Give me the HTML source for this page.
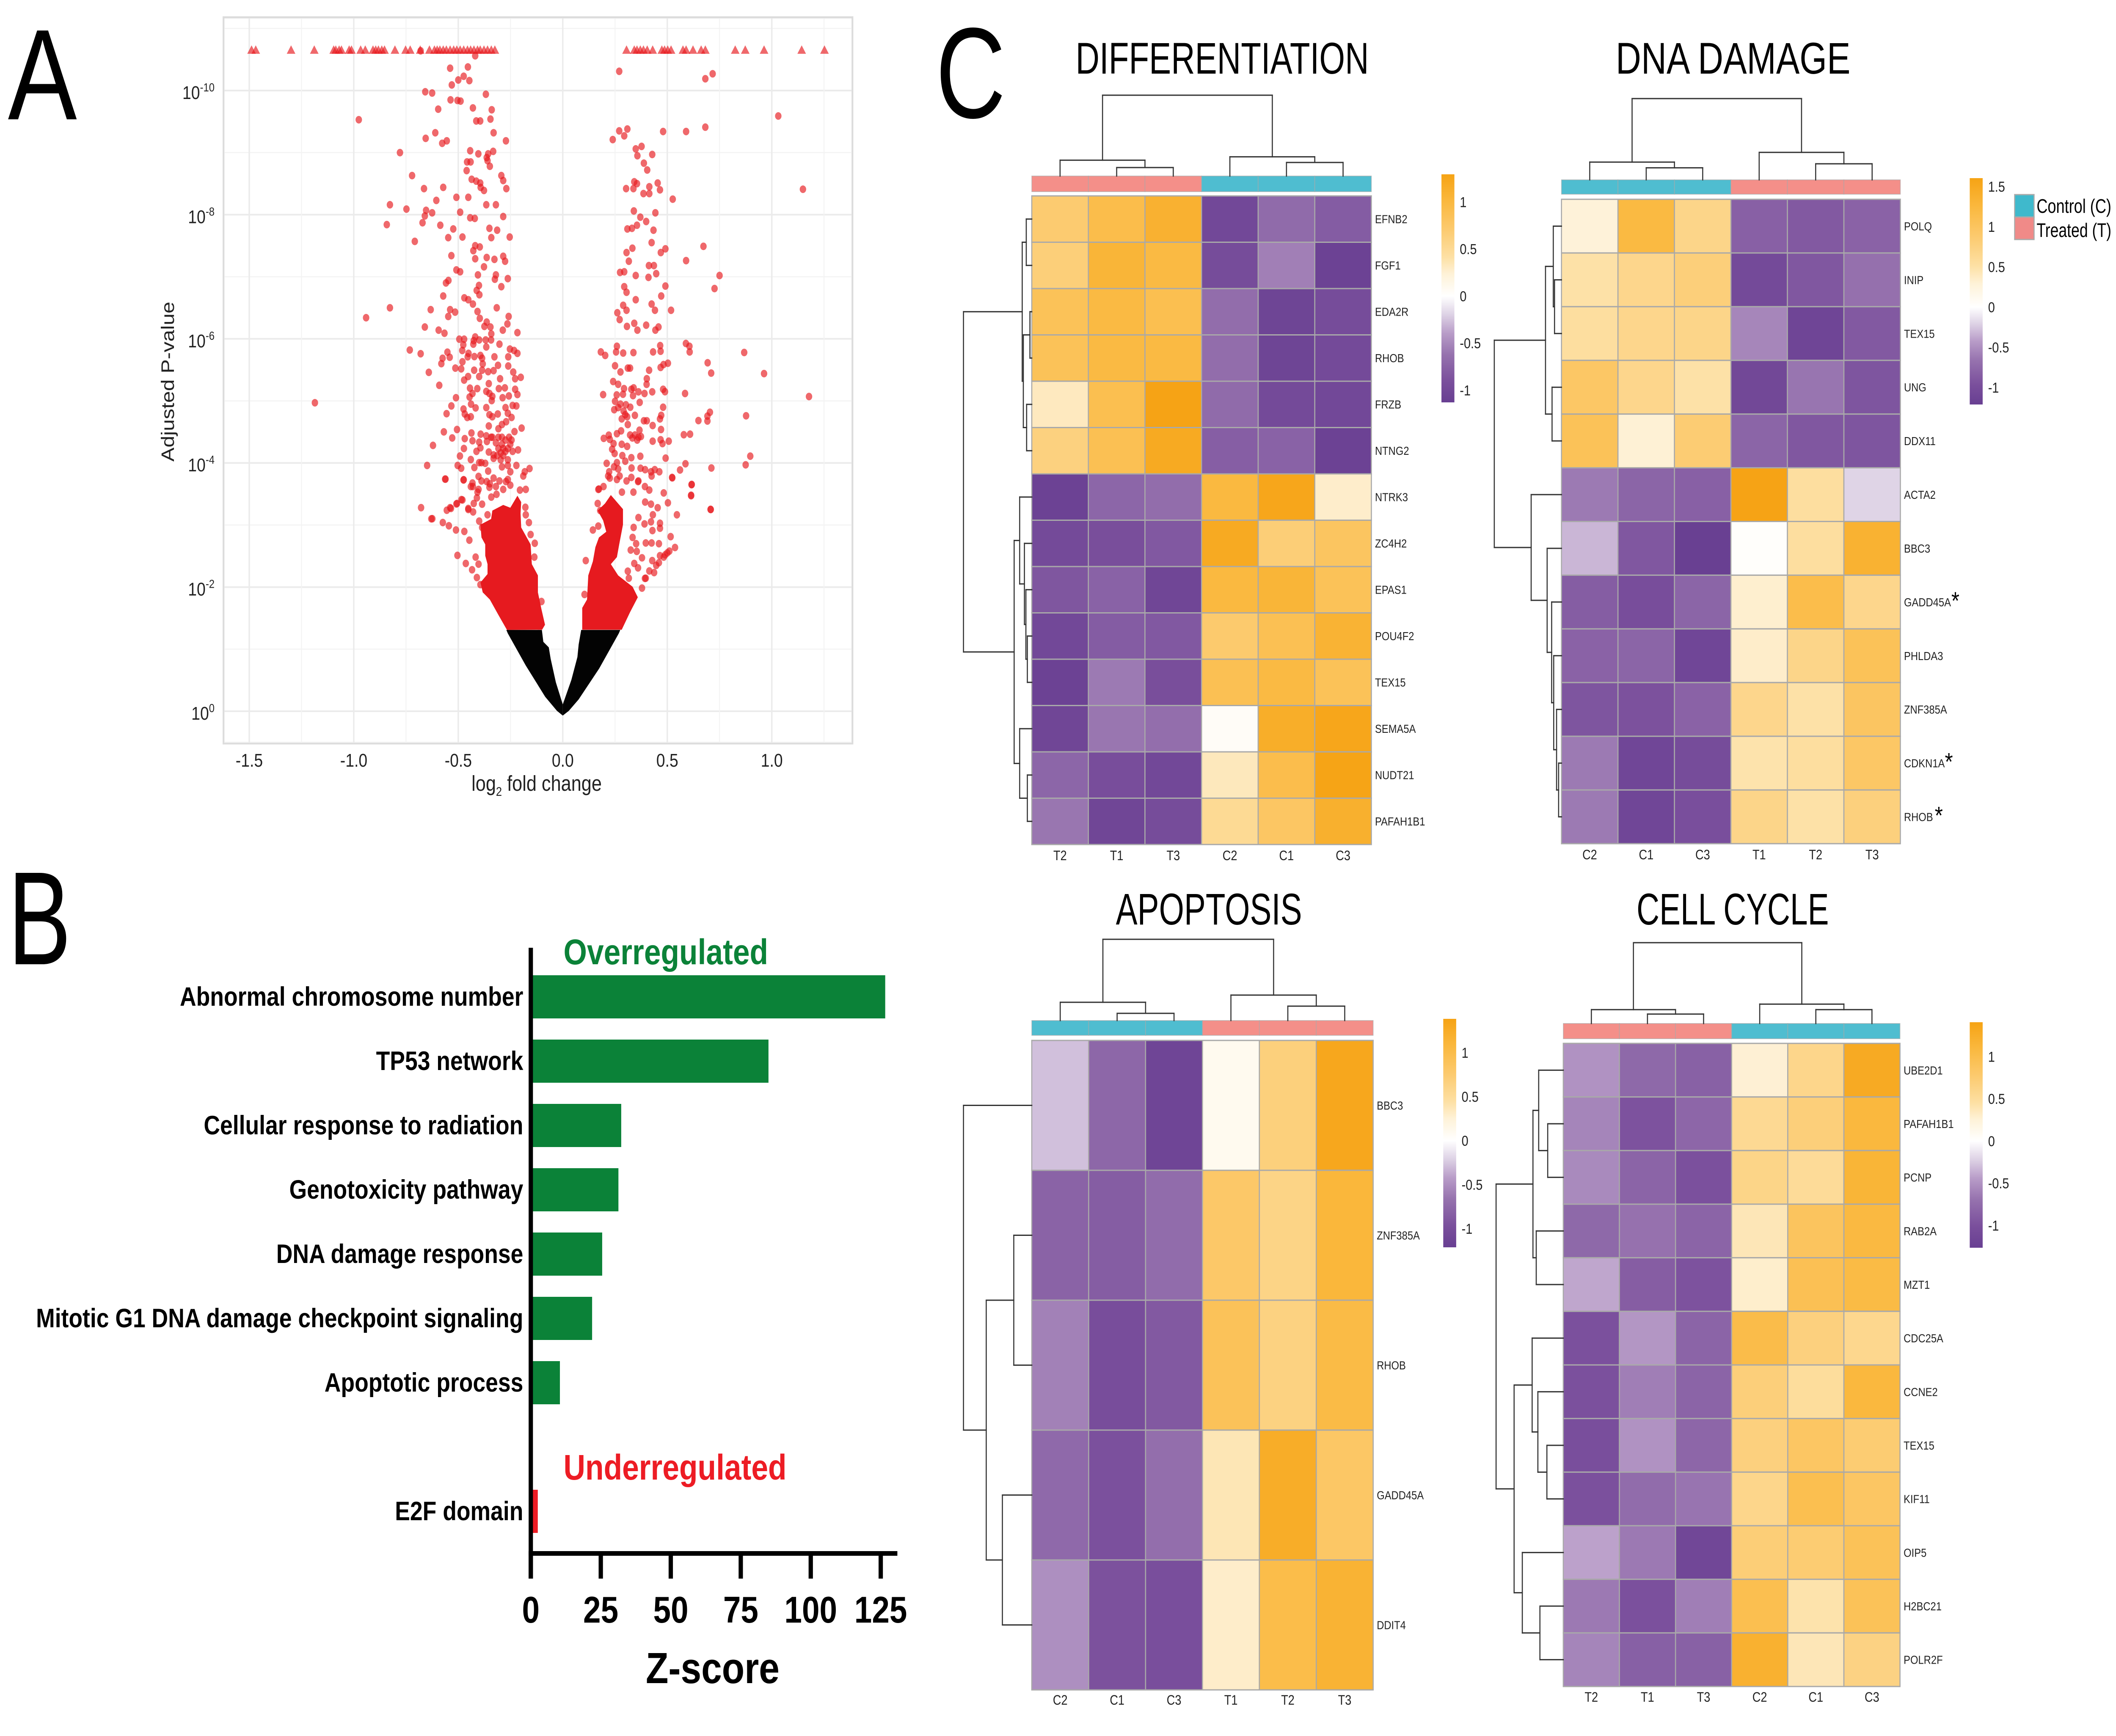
<!DOCTYPE html>
<html lang="en"><head><meta charset="utf-8"><title>Volcano plot, pathway Z-scores and heatmaps</title>
<style>html,body{margin:0;padding:0;background:#fff;width:100%;height:100%;overflow:hidden}svg{display:block;width:100%;height:100%;overflow:hidden}text{font-family:"Liberation Sans",sans-serif}</style></head>
<body>
<svg id="fig" xmlns="http://www.w3.org/2000/svg" viewBox="0 0 5888 4103" preserveAspectRatio="none">
<defs id="defs"></defs>
<rect width="5888" height="4103" fill="#fff"/>
<text x="22" y="282" font-size="305" textLength="192" lengthAdjust="spacingAndGlyphs">A</text>
<text x="22" y="2279" font-size="314" textLength="176" lengthAdjust="spacingAndGlyphs">B</text>
<text x="2604" y="278" font-size="305" textLength="194" lengthAdjust="spacingAndGlyphs">C</text>
<g id="volcano"></g>
<g id="bars"></g>
<g id="heatmaps"></g>
<g>
<rect x="5606" y="460" width="54" height="53" fill="#3fb9cc" stroke="#aaa" stroke-width="3"/>
<rect x="5606" y="513" width="54" height="53" fill="#f08a88" stroke="#aaa" stroke-width="3"/>
<text x="5667" y="503" font-size="46" textLength="208" lengthAdjust="spacingAndGlyphs">Control (C)</text>
<text x="5667" y="560" font-size="46" textLength="208" lengthAdjust="spacingAndGlyphs">Treated (T)</text>
</g>
</svg>
<script>
/* ---------- Panel A data ---------- */
const volcanoXTicks=[-1.5,-1,-0.5,0,0.5,1];
const volcanoXTickLabels=['-1.5','-1.0','-0.5','0.0','0.5','1.0'];
const volcanoYTicks=[0,2,4,6,8,10];
const volcanoYTickLabels=['0','-2','-4','-6','-8','-10'];
const cappedNegLog10P=10.66;
const cappedLog2FC=[-1.489,-1.469,-1.3,-1.189,-1.096,-1.086,-1.07,-1.059,-1.022,-1.011,-.967,-.945,-.908,-.895,-.882,-.866,-.853,-.803,-.752,-.73,-.682,-.638,-.614,-.601,-.588,-.572,-.557,-.539,-.522,-.507,-.491,-.474,-.456,-.441,-.425,-.408,-.395,-.377,-.36,-.342,-.325,.305,.342,.355,.371,.386,.404,.43,.474,.487,.502,.518,.575,.59,.623,.662,.682,.825,.873,.963,1.143,1.252];
const nonSigEnvelopeLeft=[[0,-.07],[-.028,.007],[-.084,.232],[-.177,.736],[-.263,1.254],[-.27,1.31],[-.1,1.31],[-.093,1.118],[-.067,1.029],[-.058,.845],[-.033,.464],[0,.11]];
const nonSigEnvelopeRight=[[0,-.07],[.029,.007],[.076,.191],[.174,.688],[.268,1.254],[.275,1.31],[.088,1.31],[.076,1.077],[.07,.873],[.041,.504],[0,.11]];
const denseEnvelopeLeft=[[-.267,1.31],[-.308,1.552],[-.349,1.8],[-.383,1.915],[-.394,2.074],[-.36,2.21],[-.36,2.37],[-.371,2.506],[-.371,2.688],[-.389,2.8],[-.394,3.006],[-.343,3.097],[-.337,3.233],[-.285,3.324],[-.251,3.279],[-.217,3.472],[-.199,3.37],[-.202,3.188],[-.199,2.961],[-.154,2.688],[-.148,2.37],[-.119,2.188],[-.119,1.915],[-.102,1.643],[-.085,1.393],[-.099,1.313]];
const denseEnvelopeRight=[[.093,1.313],[.093,1.665],[.116,1.8],[.122,2.188],[.144,2.415],[.156,2.643],[.173,2.8],[.208,2.892],[.193,3.074],[.167,3.233],[.202,3.347],[.23,3.483],[.288,3.256],[.288,3.006],[.27,2.688],[.259,2.483],[.23,2.37],[.265,2.188],[.334,2.006],[.359,1.836],[.322,1.597],[.282,1.313]];
const sigPointsLeft=[[-.539,10.36],[-.454,10.38],[-.419,10.56],[-.68,10.64],[-.5,10.17],[-.474,10.23],[-.447,10.16],[-.531,10.09],[-.658,9.98],[-.625,9.96],[-.368,9.94],[-.537,9.85],[-.504,9.84],[-.489,9.83],[-.43,9.72],[-.596,9.7],[-.34,9.69],[-.976,9.53],[-.414,9.51],[-.395,9.51],[-.346,9.54],[-.331,9.32],[-.61,9.32],[-.656,9.23],[-.272,9.19],[-.555,9.19],[-.577,9.15],[-.779,9],[-.443,9.03],[-.404,8.98],[-.357,8.98],[-.333,9.02],[-.364,8.92],[-.458,8.85],[-.441,8.85],[-.36,8.87],[-.349,8.78],[-.46,8.71],[-.721,8.63],[-.294,8.63],[-.285,8.55],[-.436,8.57],[-.414,8.54],[-.395,8.51],[-.664,8.42],[-.572,8.44],[-.393,8.44],[-.377,8.39],[-.27,8.42],[-.509,8.28],[-.452,8.28],[-.605,8.23],[-.827,8.16],[-.366,8.16],[-.32,8.16],[-.748,8.09],[-.654,8.07],[-.491,8.04],[-.625,8.03],[-.66,7.98],[-.285,7.97],[-.443,7.95],[-.421,7.94],[-.671,7.87],[-.842,7.84],[-.586,7.83],[-.524,7.77],[-.351,7.78],[-.314,7.75],[-.342,7.63],[-.254,7.64],[-.548,7.63],[-.48,7.64],[-.708,7.57],[-.419,7.5],[-.397,7.48],[-.428,7.42],[-.533,7.34],[-.364,7.31],[-.419,7.29],[-.285,7.33],[-.276,7.25],[-.327,7.28],[-.377,7.16],[-.509,7.11],[-.491,7.08],[-.406,7.03],[-.32,7.03],[-.263,6.97],[-.325,6.96],[-.547,6.94],[-.559,6.9],[-.401,6.86],[-.294,6.84],[-.412,6.78],[-.572,6.69],[-.471,6.66],[-.452,6.63],[-.399,6.71],[-.43,6.56],[-.316,6.5],[-.827,6.5],[-.632,6.47],[-.539,6.47],[-.515,6.43],[-.408,6.44],[-.548,6.36],[-.941,6.34],[-.397,6.33],[-.259,6.36],[-.364,6.27],[-.265,6.24],[-.375,6.2],[-.66,6.19],[-.346,6.19],[-.594,6.14],[-.287,6.14],[-.217,6.1],[-.566,6.09],[-.342,6.08],[-.419,6.03],[-.732,5.82],[-.68,5.76],[-1.186,4.97],
[-.552,5.785],[-.541,5.703],[-.575,5.687],[-.581,5.6],[-.641,5.46],[-.591,5.251],[-.514,5.528],[-.486,5.516],[-.48,5.63],[-.455,5.71],[-.451,5.766],[-.481,5.812],[-.476,5.903],[-.495,5.994],[-.472,5.994],[-.426,5.971],[-.428,5.914],[-.4,5.982],[-.366,5.869],[-.369,5.982],[-.343,5.982],[-.303,5.914],[-.423,5.714],[-.394,5.732],[-.386,5.687],[-.383,5.596],[-.386,5.494],[-.424,5.494],[-.357,5.471],[-.331,5.487],[-.31,5.573],[-.327,5.71],[-.261,5.71],[-.261,5.562],[-.253,5.835],[-.233,5.812],[-.217,5.766],[-.237,5.464],[-.228,5.357],[-.201,5.38],[-.453,5.392],[-.472,5.335],[-.4,5.392],[-.354,5.278],[-.3,5.357],[-.409,5.198],[-.444,5.205],[-.432,5.119],[-.446,5.062],[-.306,5.198],[-.277,5.21],[-.366,5.153],[-.351,5.119],[-.337,5.073],[-.228,5.187],[-.217,5.103],[-.288,5.051],[-.258,5.08],[-.511,5.051],[-.533,4.919],[-.556,4.794],[-.439,4.948],[-.417,4.887],[-.475,4.869],[-.469,4.789],[-.457,4.733],[-.44,4.744],[-.366,4.892],[-.34,5.005],[-.351,4.778],[-.337,4.744],[-.311,4.789],[-.274,4.892],[-.263,4.801],[-.245,4.733],[-.222,4.919],[-.24,4.926],[-.271,4.664],[-.291,4.619],[-.308,4.551],[-.354,4.596],[-.197,4.562],[-.231,4.505],[-.506,4.539],[-.569,4.501],[-.529,4.403],[-.469,4.392],[-.437,4.483],[-.432,4.358],[-.393,4.464],[-.366,4.437],[-.337,4.414],[-.363,4.346],[-.4,4.335],[-.394,4.244],[-.291,4.414],[-.257,4.414],[-.32,4.324],[-.291,4.301],[-.251,4.301],[-.621,4.283],[-.473,4.233],[-.413,4.187],[-.354,4.176],[-.331,4.13],[-.297,4.164],[-.274,4.187],[-.24,4.187],[-.214,4.21],[-.331,4.074],[-.297,4.051],[-.263,4.051],[-.492,4.112],[-.44,4.055],[-.649,3.96],[-.503,3.96],[-.486,3.915],[-.423,3.926],[-.389,4.005],[-.371,3.994],[-.4,4.005],[-.291,3.937],[-.263,3.96],[-.222,3.96],[-.159,3.91],[-.357,3.869],[-.251,3.858],[-.182,3.858],[-.308,4.233],[-.285,4.233],[-.263,4.233],[-.314,4.119],[-.285,4.119],[-.343,4.414],[-.308,4.414],[-.274,4.369],[-.245,4.369],
[-.189,3.79],[-.561,3.74],[-.474,3.73],[-.364,3.7],[-.272,3.7],[-.43,3.62],[-.32,3.62],[-.408,3.53],[-.342,3.45],[-.485,3.41],[-.678,3.28],[-.539,3.28],[-.509,3.34],[-.452,3.25],[-.629,3.1],[-.563,3.74],[-.475,3.726],[-.432,3.677],[-.44,3.62],[-.403,3.574],[-.403,3.783],[-.389,3.71],[-.351,3.608],[-.317,3.495],[-.285,3.574],[-.251,3.642],[-.263,3.733],[-.303,3.71],[-.349,3.665],[-.331,3.756],[-.205,3.563],[-.177,3.574],[-.411,3.438],[-.426,3.347],[-.386,3.336],[-.452,3.267],[-.429,3.211],[-.48,3.404],[-.506,3.347],[-.535,3.267],[-.555,3.238],[-.624,3.102],[-.574,3.04],[-.545,2.988],[-.511,2.92],[-.471,2.897],[-.447,2.756],[-.504,2.511],[-.464,2.381],[-.417,2.483],[-.434,2.279],[-.403,2.37],[-.411,2.154],[-.394,2.04],[-.36,3.165],[-.4,3.063],[-.386,2.961],[-.179,3.286],[-.177,3.165],[-.162,3.04],[-.154,2.847],[-.134,2.706],[-.136,2.483],[-.102,1.768]];
const sigPointsRight=[[.27,10.31],[.717,10.27],[.682,10.19],[1.031,9.59],[.682,9.41],[.309,9.38],[.27,9.35],[.48,9.34],[.59,9.34],[.294,9.27],[.239,9.21],[.377,9.1],[.349,9.06],[.428,8.97],[.357,8.95],[.388,8.83],[.404,8.72],[.342,8.53],[.355,8.5],[.454,8.51],[.303,8.42],[.338,8.42],[.414,8.45],[.386,8.34],[.414,8.34],[.465,8.4],[1.149,8.41],[.526,8.25],[.34,8.06],[.443,8.03],[.371,7.96],[.399,7.89],[.355,7.83],[.309,7.77],[.331,7.78],[.434,7.75],[.425,7.55],[.333,7.46],[.491,7.45],[.673,7.49],[.469,7.39],[.305,7.39],[.316,7.25],[.59,7.26],[.412,7.18],[.436,7.18],[.274,7.07],[.294,7.08],[.349,7.02],[.41,6.99],[.447,7.05],[.75,7.02],[.294,6.84],[.491,6.85],[.726,6.81],[.305,6.75],[.471,6.69],[.349,6.63],[.425,6.56],[.289,6.54],[.305,6.46],[.441,6.46],[.261,6.42],[.518,6.46],[.272,6.31],[.342,6.25],[.399,6.22],[.307,6.2],[.357,6.14],[.458,6.19],[.443,6.14],[.868,5.78],[.963,5.44],[1.178,5.07],[.877,4.76],[.897,4.11],[.875,3.97],
[.182,5.789],[.203,5.732],[.259,5.88],[.255,5.789],[.289,5.771],[.338,5.778],[.432,5.789],[.466,5.891],[.468,5.8],[.589,5.925],[.606,5.88],[.607,5.789],[.693,5.614],[.71,5.448],[.25,5.566],[.276,5.466],[.311,5.528],[.322,5.528],[.413,5.494],[.468,5.539],[.482,5.585],[.503,5.607],[.241,5.312],[.265,5.267],[.402,5.357],[.401,5.267],[.293,5.198],[.328,5.187],[.339,5.21],[.362,5.146],[.391,5.119],[.428,5.146],[.48,5.187],[.489,5.148],[.585,5.119],[.193,5.101],[.258,5.096],[.288,5.107],[.336,5.085],[.368,4.976],[.25,4.994],[.276,4.948],[.265,4.892],[.246,4.858],[.291,4.835],[.302,4.937],[.323,4.898],[.345,4.767],[.299,4.778],[.308,4.744],[.282,4.71],[.388,4.68],[.402,4.68],[.311,4.619],[.43,4.603],[.471,4.767],[.48,4.898],[.465,4.71],[.47,4.539],[.649,4.683],[.692,4.676],[.692,4.755],[.704,4.817],[.279,4.517],[.259,4.471],[.22,4.448],[.196,4.396],[.225,4.38],[.322,4.45],[.345,4.45],[.367,4.528],[.362,4.414],[.356,4.369],[.374,4.426],[.333,4.403],[.579,4.455],[.609,4.464],[.43,4.351],[.468,4.374],[.477,4.312],[.507,4.351],[.243,4.312],[.282,4.301],[.308,4.267],[.236,4.221],[.248,4.153],[.285,4.119],[.299,4.028],[.328,4.085],[.371,4.108],[.492,4.078],[.587,3.987],[.21,3.994],[.245,3.937],[.259,4.005],[.265,3.903],[.222,3.858],[.329,3.919],[.372,3.915],[.394,3.892],[.44,3.892],[.422,3.858],[.462,3.858],[.561,3.887],[.711,3.919],
[.524,3.76],[.425,3.79],[.217,3.79],[.272,3.79],[.36,3.7],[.616,3.65],[.393,3.62],[.195,3.62],[.173,3.58],[.614,3.48],[.283,3.53],[.338,3.53],[.708,3.25],[.17,3.574],[.225,3.756],[.259,3.733],[.305,3.71],[.362,3.71],[.328,3.767],[.414,3.563],[.483,3.517],[.503,3.358],[.523,3.767],[.617,3.654],[.614,3.472],[.707,3.252],[.546,3.165],[.465,3.029],[.465,2.949],[.429,2.911],[.516,2.813],[.537,2.638],[.5,2.551],[.465,2.506],[.46,2.393],[.428,2.427],[.437,2.234],[.397,2.143],[.379,1.984],[.379,2.472],[.342,2.381],[.397,2.711],[.425,2.711],[.46,2.699],[.354,2.575],[.325,2.597],[.351,2.699],[.334,2.8],[.394,3.37],[.422,3.336],[.454,3.279],[.431,3.165],[.362,3.12],[.167,3.347],[.179,3.233],[.144,2.92],[.17,2.983],[.339,2.961],[.391,3.018],[.422,3.052],[.11,2.427],[.104,1.881],[.311,2.256],[.316,2.143],[.483,2.483],[.49,2.52],[.51,2.58],[.447,2.35],[.414,2.26],[.36,2.31],[.393,2.14]];

/* ---------- Panel B data ---------- */
const barCategories=['Abnormal chromosome number','TP53 network','Cellular response to radiation','Genotoxicity pathway','DNA damage response','Mitotic G1 DNA damage checkpoint signaling','Apoptotic process','','E2F domain'];
const barValues=[126.6,84.9,32.3,31.3,25.5,21.9,10.4,null,2.5];
const barDirections=['up','up','up','up','up','up','up','','down'];
const barTicks=[0,25,50,75,100,125];

/* ---------- Panel C data ---------- */
const diffGenes=['EFNB2','FGF1','EDA2R','RHOB','FRZB','NTNG2','NTRK3','ZC4H2','EPAS1','POU4F2','TEX15','SEMA5A','NUDT21','PAFAH1B1'];
const diffSamples=['T2','T1','T3','C2','C1','C3'];
const diffValues=[[.70,.93,1.1,-1.0,-.68,-.8],[.65,1.05,.98,-.95,-.55,-1.08],[.85,.98,.9,-.66,-1.05,-.95],[.85,.98,.98,-.66,-1.05,-.98],[.32,.9,1.29,-.68,-.98,-1.0],[.62,.88,1.2,-.78,-.75,-1.08],[-1.08,-.72,-.66,1.0,1.25,.28],[-.98,-.92,-.83,1.2,.66,.8],[-.85,-.75,-1.03,1.0,1.05,.85],[-1.0,-.8,-.83,.72,.88,1.08],[-1.08,-.58,-.92,.88,.98,.85],[-1.03,-.6,-.65,.05,1.15,1.25],[-.72,-.93,-1.0,.33,.92,1.28],[-.6,-1.03,-.95,.5,.78,1.12]];
const diffScaleTicks=[1,.5,0,-.5,-1];
const dnaGenes=['POLQ','INIP','TEX15','UNG','DDX11','ACTA2','BBC3','GADD45A','PHLDA3','ZNF385A','CDKN1A','RHOB'];
const dnaSamples=['C2','C1','C3','T1','T2','T3'];
const dnaValues=[[.28,1.22,.7,-.82,-.88,-.8],[.5,.68,.8,-1.05,-.9,-.68],[.55,.68,.7,-.55,-1.12,-.88],[.95,.68,.5,-1.08,-.65,-.92],[1.05,.3,.85,-.78,-.9,-.92],[-.62,-.78,-.82,1.6,.55,-.2],[-.32,-.9,-1.2,.03,.55,1.35],[-.85,-1.0,-.78,.33,1.15,.68],[-.8,-.78,-1.1,.35,.7,1.05],[-.92,-.95,-.8,.68,.5,.98],[-.62,-1.1,-1.02,.48,.55,.95],[-.62,-1.1,-.98,.7,.5,.78]];
const dnaScaleTicks=[1.5,1,.5,0,-.5,-1];
const apoGenes=['BBC3','ZNF385A','RHOB','GADD45A','DDIT4'];
const apoSamples=['C2','C1','C3','T1','T2','T3'];
const apoValues=[[-.28,-.76,-1.12,.1,.68,1.32],[-.8,-.85,-.72,.8,.62,1.1],[-.58,-1.0,-.88,.9,.65,1.03],[-.74,-.96,-.7,.38,1.24,.82],[-.5,-.95,-.98,.3,1.0,1.15]];
const apoScaleTicks=[1,.5,0,-.5,-1];
const cycGenes=['UBE2D1','PAFAH1B1','PCNP','RAB2A','MZT1','CDC25A','CCNE2','TEX15','KIF11','OIP5','H2BC21','POLR2F'];
const cycSamples=['T2','T1','T3','C2','C1','C3'];
const cycValues=[[-.5,-.78,-.85,.27,.6,1.3],[-.58,-.98,-.8,.55,.7,1.1],[-.55,-.82,-1.0,.62,.52,1.15],[-.78,-.7,-.82,.38,.88,1.08],[-.4,-.88,-.98,.3,.95,1.05],[-1.0,-.48,-.82,1.02,.68,.58],[-1.0,-.62,-.82,.7,.5,1.1],[-1.02,-.5,-.8,.68,.85,.75],[-1.0,-.75,-.68,.6,.98,.85],[-.42,-.65,-1.13,.72,.75,.92],[-.65,-1.0,-.62,.98,.42,.92],[-.58,-.86,-.85,1.2,.38,.65]];
const cycScaleTicks=[1,.5,0,-.5,-1];
/* cluster trees: [merge height, child, child]; a leaf is a row or column index */
const diffRowTree=[186,[26,[15,0,1],[23,[5,2,3],[14,4,5]]],[48,[33,6,[20,7,[16,8,[12,9,10]]]],[33,11,[12,12,13]]]];
const diffColTree=[143,[28,0,[15,1,2]],[34,3,[24,4,5]]];
const dnaRowTree=[164,[39,[20,0,[17,1,2]],[23,3,4]],[74,5,[35,6,[24,7,[19,8,[12,9,[7,10,11]]]]]]];
const dnaColTree=[142,[31,0,[21,1,2]],[48,3,[28,4,5]]];
const apoRowTree=[186,0,[124,[49,1,2],[80,3,4]]];
const apoColTree=[147,[33,0,[13,1,2]],[46,3,[26,4,5]]];
const cycRowTree=[164,[74,[60,0,[38,1,2]],[66,3,4]],[120,[76,5,[62,6,[40,7,8]]],[100,9,[57,10,11]]]];
const cycColTree=[146,[25,0,[17,1,2]],[35,3,[25,4,5]]];

const NS='http://www.w3.org/2000/svg';
function mk(tag,attrs,parent,txt){const e=document.createElementNS(NS,tag);for(const k in attrs)e.setAttribute(k,attrs[k]);if(txt!==undefined)e.textContent=txt;parent.appendChild(e);return e;}

/* ---------- Volcano ---------- */
(function(){
const g=document.getElementById('volcano');
const vx=v=>1566+581.6*v, vy=l=>1681-146.7*l;
const panel=mk('rect',{x:622,y:41,width:1750,height:1716,fill:'#fff',stroke:'#dcdcdc','stroke-width':5},g);


function grid(x1,y1,x2,y2,major){const l=mk('line',{x1,y1,x2,y2,stroke:major?'#ebebeb':'#f3f3f3','stroke-width':major?4:2.5},g);

}
for(let i=0;i<volcanoYTicks.length;i++){grid(624,vy(volcanoYTicks[i]),2370,vy(volcanoYTicks[i]),true);
 if(i<volcanoYTicks.length-1)grid(624,vy(volcanoYTicks[i]+1),2370,vy(volcanoYTicks[i]+1),false);}
grid(624,vy(11),2370,vy(11),false);
grid(624,vy(-.5),2370,vy(-.5),false);
for(let i=0;i<volcanoXTicks.length;i++){grid(vx(volcanoXTicks[i]),43,vx(volcanoXTicks[i]),1755,true);
 grid(vx(volcanoXTicks[i]+.25),43,vx(volcanoXTicks[i]+.25),1755,false);}
function poly(pts,fill,name){const p=mk('polygon',{points:pts.map(d=>vx(d[0])+','+vy(d[1])).join(' '),fill},g);

}
poly(denseEnvelopeLeft,'#e61a1f','dense-significant-genes-left');
poly(denseEnvelopeRight,'#e61a1f','dense-significant-genes-right');
poly(nonSigEnvelopeLeft,'#030303','nonsignificant-genes-left');
poly(nonSigEnvelopeRight,'#030303','nonsignificant-genes-right');
sigPointsLeft.concat(sigPointsRight).forEach(d=>{const c=mk('circle',{cx:vx(d[0]),cy:vy(d[1]),r:9,fill:'#e61a1f','fill-opacity':.66},g);

});
cappedLog2FC.forEach(v=>{const x=vx(v),y=vy(cappedNegLog10P);
const t=mk('polygon',{points:(x-12)+','+(y+10)+' '+(x+12)+','+(y+10)+' '+x+','+(y-10),fill:'#e61a1f','fill-opacity':.66},g);

});
volcanoXTicks.forEach((v,i)=>{const t=mk('text',{x:vx(v),y:1812,'font-size':44,'text-anchor':'middle',fill:'#222'},g,volcanoXTickLabels[i]);

});
volcanoYTicks.forEach((v,i)=>{const t=mk('text',{x:597,y:vy(v)+20,'font-size':44,'text-anchor':'end',fill:'#222'},g,'10');
const s=mk('tspan',{dy:-18,'font-size':28},t,volcanoYTickLabels[i]);

});
const xt=mk('text',{x:1312,y:1869,'font-size':51,fill:'#222'},g,'log');
mk('tspan',{dy:12,'font-size':30},xt,'2');
mk('tspan',{dy:-12},xt,' fold change');


const yt=mk('text',{x:0,y:0,'font-size':50,'text-anchor':'middle',fill:'#222',transform:'translate(484 902) rotate(-90)'},g,'Adjusted P-value');


})();

/* ---------- Bars ---------- */
(function(){
const g=document.getElementById('bars');
const bx=v=>1477+7.79*v, by=i=>2305+152*i;
const barColor={up:'#0b8238',down:'#ed1c24'};
barCategories.forEach((name,i)=>{
 if(barValues[i]===null)return;
 const r=mk('rect',{x:bx(0),y:by(i),width:bx(barValues[i])-bx(0),height:102,fill:barColor[barDirections[i]]},g);
 
 
 const t=mk('text',{x:1456,y:by(i)+72,'font-size':63,'font-weight':'bold','text-anchor':'end',fill:'#000'},g,name);
 
 
});
const ya=mk('rect',{x:1471,y:2240,width:12,height:1491,fill:'#000'},g);


const xa=mk('rect',{x:1471,y:3666,width:1026,height:11,fill:'#000'},g);


barTicks.forEach(v=>{const k=mk('rect',{x:bx(v)-6,y:3666,width:12,height:65,fill:'#000'},g);


const t=mk('text',{x:bx(v),y:3835,'font-size':88,'font-weight':'bold','text-anchor':'middle'},g,String(v));

});
const z=mk('text',{x:1983,y:3978,'font-size':103,'font-weight':'bold','text-anchor':'middle'},g,'Z-score');


const o=mk('text',{x:1568,y:2279,'font-size':84,'font-weight':'bold',fill:'#0b8238'},g,'Overregulated');


const u=mk('text',{x:1568,y:3497,'font-size':84,'font-weight':'bold',fill:'#ed1c24'},g,'Underregulated');


})();

/* ---------- Heatmaps ---------- */
const colorStops=[[-1,[104,63,146]],[-.8,[122,79,156]],[-.55,[150,114,174]],[-.35,[184,156,200]],[-.18,[220,208,228]],[0,[255,255,255]],[.18,[254,242,216]],[.32,[253,224,164]],[.55,[252,202,110]],[.78,[250,184,62]],[1,[246,163,20]]];
function heatColor(t){t=Math.max(-1,Math.min(1,t));
 for(let i=1;i<colorStops.length;i++){if(t<=colorStops[i][0]){const a=colorStops[i-1],b=colorStops[i],f=(t-a[0])/(b[0]-a[0]);
  const c=[0,1,2].map(k=>Math.round(a[1][k]+(b[1][k]-a[1][k])*f));return 'rgb('+c.join(',')+')';}}
 return 'rgb(246,163,20)';}
const panels=[
 {key:'differentiation',title:'DIFFERENTIATION',tx:2993,tw:816,ty:174,x0:2871,x1:3816,y0:463,y1:1996,ay0:416,ay1:453,colTop:225,rowLeft:2681,genes:diffGenes,samples:diffSamples,values:diffValues,rowTree:diffRowTree,colTree:diffColTree,cbx:4011,cbw:36,cby0:412,cby1:951,zeroY:700,unit:222.5,ticks:diffScaleTicks,cbl:4062,labelY:2033},
 {key:'dna-damage',title:'DNA DAMAGE',tx:4496,tw:653,ty:174,x0:4345,x1:5288,y0:471,y1:1994,ay0:425,ay1:459,colTop:233,rowLeft:4158,genes:dnaGenes,samples:dnaSamples,values:dnaValues,rowTree:dnaRowTree,colTree:dnaColTree,cbx:5481,cbw:36,cby0:421,cby1:956,zeroY:726,unit:190,ticks:dnaScaleTicks,cbl:5532,labelY:2031},
 {key:'apoptosis',title:'APOPTOSIS',tx:3105,tw:518,ty:2185,x0:2871,x1:3821,y0:2459,y1:3994,ay0:2412,ay1:2447,colTop:2220,rowLeft:2681,genes:apoGenes,samples:apoSamples,values:apoValues,rowTree:apoRowTree,colTree:apoColTree,cbx:4016,cbw:36,cby0:2408,cby1:2948,zeroY:2696,unit:208,ticks:apoScaleTicks,cbl:4067,labelY:4029},
 {key:'cell-cycle',title:'CELL CYCLE',tx:4554,tw:535,ty:2185,x0:4350,x1:5287,y0:2466,y1:3986,ay0:2419,ay1:2455,colTop:2228,rowLeft:4163,genes:cycGenes,samples:cycSamples,values:cycValues,rowTree:cycRowTree,colTree:cycColTree,cbx:5481,cbw:36,cby0:2416,cby1:2949,zeroY:2697,unit:199.5,ticks:cycScaleTicks,cbl:5532,labelY:4022}
];
const starredGenes=['GADD45A','CDKN1A','RHOB'];
const defs=document.getElementById('defs');
panels.forEach(p=>{
 const root=document.getElementById('heatmaps');
 const g=mk('g',{},root);
 
 
 const tt=mk('text',{x:p.tx,y:p.ty,'font-size':105,textLength:p.tw,lengthAdjust:'spacingAndGlyphs',fill:'#000'},g,p.title);
 
 
 const nr=p.genes.length,nc=p.samples.length,cw=(p.x1-p.x0)/nc,rh=(p.y1-p.y0)/nr;
 const vmax=(p.zeroY-p.cby0)/p.unit,vmin=(p.cby1-p.zeroY)/p.unit;
 const t=v=>v>=0?v/vmax:v/vmin;
 /* annotation bar and column labels */
 p.samples.forEach((s,c)=>{
  const a=mk('rect',{x:p.x0+c*cw,y:p.ay0,width:cw,height:p.ay1-p.ay0,fill:s[0]==='T'?'#f48f89':'#4fbdd0',stroke:'#a9a9a9','stroke-opacity':.6,'stroke-width':2},g);
  
  
  const l=mk('text',{x:p.x0+(c+.5)*cw,y:p.labelY,'font-size':32,'text-anchor':'middle',fill:'#222'},g,s);
  
  
 });
 /* cells */
 p.values.forEach((row,r)=>row.forEach((v,c)=>{
  const e=mk('rect',{x:p.x0+c*cw,y:p.y0+r*rh,width:cw,height:rh,fill:heatColor(t(v)),stroke:'#a9a9a9','stroke-width':3},g);
  
  
 }));
 /* gene labels */
 p.genes.forEach((n,r)=>{
  const l=mk('text',{x:p.x1+10,y:p.y0+(r+.5)*rh+10,'font-size':28,fill:'#222'},g,n);
  
  
 });
 /* dendrograms */
 const rowK=(p.x0-p.rowLeft)/p.rowTree[0],colK=(p.ay0-p.colTop)/p.colTree[0];
 function seg(x1,y1,x2,y2){const s=mk('line',{x1,y1,x2,y2,stroke:'#333','stroke-width':3,'stroke-linecap':'square'},g);
  
  }
 function walk(node,isRow){
  if(typeof node==='number')return{pos:isRow?p.y0+(node+.5)*rh:p.x0+(node+.5)*cw,h:0};
  const a=walk(node[1],isRow),b=walk(node[2],isRow),k=isRow?rowK:colK,h=node[0];
  if(isRow){const X=z=>p.x0-z*k;seg(X(a.h),a.pos,X(h),a.pos);seg(X(b.h),b.pos,X(h),b.pos);seg(X(h),a.pos,X(h),b.pos);}
  else{const Y=z=>p.ay0-z*k;seg(a.pos,Y(a.h),a.pos,Y(h));seg(b.pos,Y(b.h),b.pos,Y(h));seg(a.pos,Y(h),b.pos,Y(h));}
  return{pos:(a.pos+b.pos)/2,h};
 }
 walk(p.rowTree,true);walk(p.colTree,false);
 /* colour bar */
 const gid='cb-'+p.key;
 const lg=mk('linearGradient',{id:gid,x1:0,y1:1,x2:0,y2:0},defs);
 colorStops.forEach(s=>{const v=s[0]>=0?s[0]*vmax:s[0]*vmin;
  mk('stop',{offset:((v+vmin)/(vmin+vmax)),'stop-color':heatColor(s[0])},lg);});
 const cb=mk('rect',{x:p.cbx,y:p.cby0,width:p.cbw,height:p.cby1-p.cby0,fill:'url(#'+gid+')'},g);
 
 
 p.ticks.forEach(v=>{const l=mk('text',{x:p.cbl,y:p.zeroY-v*p.unit+12,'font-size':34,fill:'#222'},g,String(v));
  
  });
 /* significance asterisks */
 if(p.key==='dna-damage'){
  const offsets=[125,107,79];
  starredGenes.forEach((n,i)=>{const r=p.genes.indexOf(n);
   const a=mk('text',{x:p.x1+28+offsets[i],y:p.y0+(r+.5)*rh+17,'font-size':58,'text-anchor':'middle',fill:'#000'},g,'*');
   
   });
 }
});
</script>
</body></html>
